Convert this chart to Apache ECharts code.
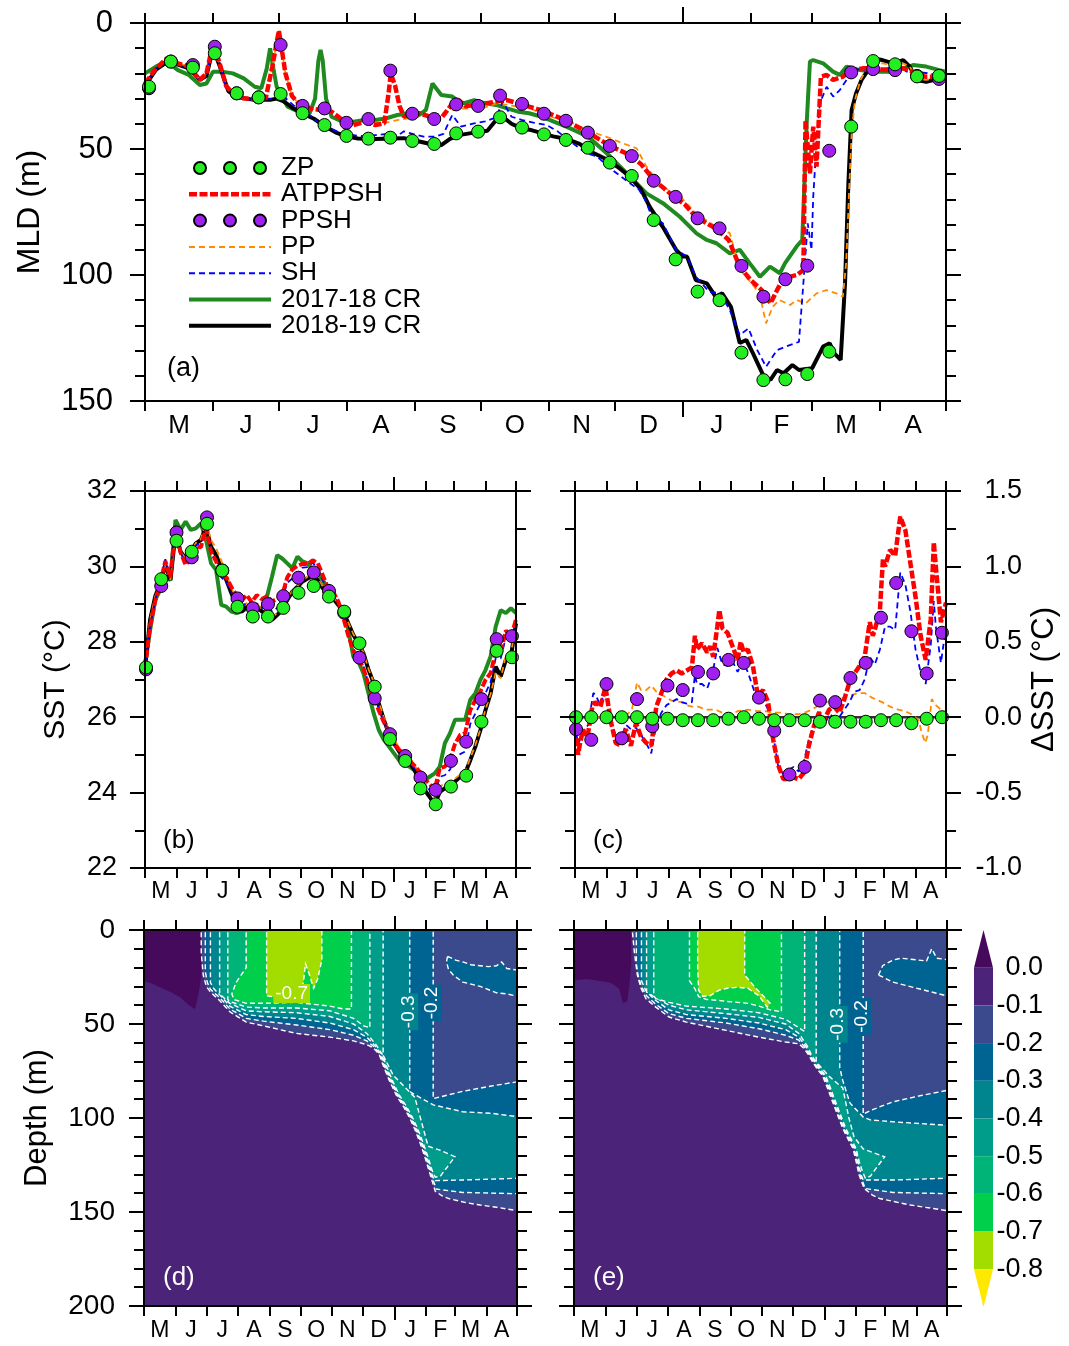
<!DOCTYPE html>
<html><head><meta charset="utf-8">
<script src="https://cdn.jsdelivr.net/npm/echarts@6/dist/echarts.min.js"></script>
<style>html,body{margin:0;padding:0;background:#fff}#c{width:1069px;height:1346px}</style>
</head><body><div id="c"></div>
<script>
// ---------- axis data ----------
const monthStarts = [0,31,61,92,123,153,184,214,245,276,304,335,365];
const monthMids = [15.5,46,76.5,107.5,138,168.5,199,229.5,260.5,290,319.5,350];
const monthLetters = ['M','J','J','A','S','O','N','D','J','F','M','A'];
const yearStart = [245];

// ---------- panel (a): MLD (m), [day, value] ----------
const markDaysA = Array.from({length:37}, (_, k) => 1.8 + 10 * k);
const zpMldA = [25.3,15.3,17.7,12,27.9,29.5,28.2,35.8,40.5,44.8,45.9,45.5,46.8,48,43.8,43.1,37.4,41.5,44.2,46.4,49.5,55.4,60.7,78.2,93.8,106.6,110,130.8,141.7,141.4,139.3,130.4,41.1,15.1,16.4,21.2,21];
const ppshMldA = [25.9,15.3,16.7,9.4,27.9,29.5,8.7,32.9,33.9,39.6,38.1,18.9,36,38.1,32.3,32.9,28.8,32.1,36,38.8,43.5,48.8,52.8,62.6,69,77.5,81.5,96.4,108.6,101.7,96.3,50.7,19.6,18.3,18.7,21,22.2];
const atppshMldA = [[0,24],[5,18],[10,14],[15,16],[20,17.3],[25,22.6],[28,20],[31,8],[34,16],[37,25],[40,28],[45,29.9],[50,30.3],[55,29.9],[58,17.3],[61,3],[64,20],[67,29],[70,31.9],[75,33.9],[80,34.5],[85,35.2],[90,38.5],[95,40.5],[100,39.2],[105,40.5],[109,39.8],[111,28],[112,20],[114,25],[116,33],[118,37.2],[120,36.5],[125,35.8],[130,37.2],[135,37.8],[140,32],[143,30.6],[146,33],[150,32.5],[155,31.9],[160,31.2],[165,30.6],[170,31.9],[175,33.2],[180,34.5],[186,36.5],[192,38.8],[202,43.5],[212,48.8],[221,52.4],[226,56],[232,62.3],[237,66],[241,68.9],[246,72],[251,76.9],[256,79.5],[260,81.5],[266,86.1],[271,96.7],[276,102],[281,106],[285,111.3],[288,106],[291,101.3],[297,100],[300,98],[301,38.5],[303,59.7],[304.5,41.1],[306,57],[308,21.3],[310.6,20.6],[313.6,22.6],[318,21.3],[322,18.7],[327,18],[332,18],[338,18.7],[342.5,17.3],[348.6,18.7],[351.6,20.6],[356,21.3],[365,21.3]];
const ppMldA = [[0,24],[5,18],[10,14],[15,16],[20,17.3],[25,22.6],[28,20],[31,8],[34,16],[37,25],[40,28],[45,29.9],[50,30.3],[55,29.9],[58,17.3],[61,3],[64,20],[67,29],[70,31.9],[75,33.9],[80,34.5],[85,35.2],[90,38.5],[95,40],[100,38.5],[105,39.5],[110,39.5],[115,38.5],[120,37.8],[125,37.2],[130,36.5],[135,36],[140,34.5],[145,34],[150,34],[155,33.5],[160,31.9],[165,32.5],[170,33.2],[175,33.5],[180,35.8],[186,37.5],[195,39.8],[203,43],[210,45.1],[217,47.5],[224,49.7],[228.5,57],[232,61],[236,65],[244,68.9],[251,75.5],[260,80.7],[266.5,83.4],[271,98],[274,100.7],[280,107.3],[283,119.2],[286,112.6],[289,109.9],[294,111.9],[297,109.9],[301,111.3],[306,107.3],[310.5,106],[315,107.3],[318,108.6],[319.5,95.2],[321,63.6],[322,43.8],[323.5,30.6],[326,22.6],[329.5,17.3],[331,16],[336,16],[341,16.7],[345.5,16],[348.5,17.3],[351.6,22],[356,22.6],[365,21.3]];
const shMldA = [[0,24.6],[5,18],[10,15],[15,16.5],[20,18],[25,22.5],[28,20],[31,8.5],[34,16],[37,26],[40,28],[45,30],[50,30.5],[55,30.3],[60,30],[62,28],[65,30.6],[70,34.5],[75,36.5],[80,40],[85,42],[90,44],[95,44.5],[100,45],[105,44.5],[110,44],[115,44.8],[118,43],[122,44],[127,45.1],[132,45.1],[136,44],[140,36.5],[144,41.1],[150,39.8],[155,39],[160,37.5],[163,31.2],[167,37.2],[172,38.5],[177,39.5],[183,40.5],[188,43],[193,46.4],[201,51.7],[206,53],[212,57.7],[221,63.6],[225,66],[228,70.2],[231,77],[236,79.5],[242,90],[247,92.7],[251,100.7],[257,106.6],[262,107.3],[266.5,113.9],[271,123.8],[275,121.2],[279,129.8],[283,136.4],[288,129.8],[292,128.4],[298,126.5],[300,103.3],[302,79.5],[303.7,90],[304.5,68.9],[306,47.8],[307.5,31.9],[310.6,25.3],[313.6,29.2],[316.6,26.6],[319.7,22.6],[322.8,18],[327,18.7],[332,18],[338,18],[344,17.3],[347,19.3],[351.6,19.3],[357,20],[365,21.3]];
const cr1718MldA = [[0,20],[5,17.3],[10,15.3],[15,18.7],[20,20.6],[25,24.6],[28,24],[31,19.3],[35,19.3],[40,20],[45,22],[50,25.3],[53,25.9],[55.5,18],[57,10],[58.5,18],[60,25.3],[65,33.2],[70,35.2],[75,35.8],[77.5,30],[79,15],[80,10.7],[81,15],[82.5,30],[85,37.2],[90,39.2],[95,39.2],[100,38.5],[105,38.5],[110,37.8],[115,36.5],[120,35.8],[125,36.5],[128,34.5],[131,24],[135,28.6],[140,29.2],[143,31.2],[145,31.9],[150,30.6],[155,31.9],[160,32.5],[165,33.9],[170,35.2],[175,35.8],[180,37],[186,39],[192,41.1],[202,45.1],[212,53],[221,61],[228.5,67.6],[236,71.5],[243.7,76.9],[251.3,83.5],[256,86.1],[260.4,87.4],[266.5,91.4],[271,90],[275.6,95.4],[280.2,100.7],[284.8,96.7],[289.3,99.3],[291.6,95.4],[296.9,88.7],[299.5,86.1],[301.5,40],[303,15.3],[304.5,14.7],[309,16],[313.5,19.3],[316.6,20.6],[319.7,17.3],[325.7,18.7],[331.9,19.3],[341,19.3],[350,16.7],[356,17.3],[362,18.7],[365,19.3]];
const cr1819MldA = [[0,25],[5,18.5],[10,15.5],[15,16.5],[20,18],[25,22.5],[28,21],[31,10],[34,17],[38,27],[42,29.5],[50,30.5],[57,30.5],[60,30],[63,31],[67,33.5],[72,36],[77,38],[82,41],[87,43.5],[92,45],[97,45.8],[105,46],[112,45.8],[118,45.7],[124,46.8],[130,48],[135,48.5],[139,46],[143,44.5],[150,43.5],[156,42.8],[160,38.5],[163,37.2],[167,40],[172,42],[176,42.5],[180,43.5],[186,45],[192,46],[198,48],[203,51],[210,54],[216,57.5],[221,61],[226,66],[230,73],[236,81],[242,90],[245,92.7],[247,92.7],[251,102],[256,103.3],[260,108.6],[263,107.3],[267,112.6],[271,127],[274,125.8],[277,131],[282,140.3],[285,141.6],[288,137.7],[291,139],[295,135.7],[298,137.7],[304,137],[309,128.4],[312,127.1],[314,131],[317,133.7],[319,103],[320.5,64],[322,34.5],[324,28],[326.5,22.6],[329.5,18.7],[331,14],[336,14.7],[341,16],[345.5,14.7],[348.5,17.3],[351.6,22.6],[356,23.3],[362,22],[365,21.3]];

// ---------- panel (b): SST (degC), every 5 days ----------
const daysB = Array.from({length:74}, (_, i) => i * 5);
const markDaysB = Array.from({length:25}, (_, k) => 1 + 15 * k);
const zpSstB = [27.32,29.66,30.68,30.39,31.13,29.89,28.93,28.67,28.67,28.9,29.3,29.48,29.2,28.8,27.96,26.81,25.42,24.84,24.11,23.69,24.16,24.45,25.88,27.76,27.59];
const ppshSstB = [27.27,29.48,30.9,30.24,31.3,29.89,29.15,28.89,29.0,29.21,29.7,29.84,29.35,28.77,27.58,26.5,25.55,24.97,24.4,24.07,24.84,25.35,26.48,28.07,28.15];
const cr1819SstB = [27.3,28.58,29.2,29.55,30.04,29.64,30.88,30.39,30.21,30.39, 30.61,30.7,31.05,30.52,30.3,29.95,29.64,29.29,28.98,28.8, 28.93,28.76,28.93,28.8,28.76,28.58,28.71,28.84,29.11,29.33, 29.46,29.6,29.68,29.73,29.64,29.42,29.29,29.15,28.98,28.8, 28.49,28.18,27.96,27.69,27.25,26.9,26.37,25.93,25.57,25.31, 25.09,24.95,24.82,24.6,24.33,24.07,23.89,23.67,24.02,24.11, 24.16,24.29,24.42,24.51,24.86,25.22,25.66,26.19,26.63,27.34, 27.08,27.52,27.61,28.49];
const atppshSstB = [27.3,28.41,29.07,29.55,30.14,29.71,31.08,30.37,30.04,30.2, 30.53,30.51,31.01,30.39,30.13,29.76,29.71,29.45,29.23,29.09, 29.24,29.05,29.24,29.13,29.21,29.07,29.14,29.24,29.71,29.92, 30.02,30.07,30.06,30.16,30.09,29.76,29.43,29.33,29.08,28.65, 28.17,27.77,27.55,27.29,26.84,26.53,26.18,25.87,25.6,25.29, 25.14,25.02,24.85,24.72,24.56,24.36,24.23,24.07,24.65,24.69, 24.87,25.29,25.53,25.58,26.19,26.46,26.68,26.99,27.17,27.72, 27.73,28.3,28.1,28.6];
const shSstB = [27.25,28.44,29.12,29.6,30.19,29.72,31.08,30.37,30.09,30.24, 30.56,30.62,30.98,30.4,30.13,29.71,29.59,29.32,29.06,28.9, 29.05,28.86,29.02,28.9,28.98,28.8,28.9,29.12,29.57,29.68, 29.8,29.97,29.98,30.1,29.94,29.62,29.39,29.27,29.03,28.68, 28.16,27.8,27.61,27.36,26.89,26.6,26.22,25.88,25.62,25.25, 25.11,24.95,24.82,24.65,24.43,24.24,24.07,23.92,24.42,24.46, 24.61,24.89,25.02,25.09,25.82,26.1,26.36,26.64,26.93,27.56, 27.56,28.12,27.97,28.4];
const ppSstB = [27.3,28.58,29.2,29.55,30.04,29.64,30.88,30.39,30.21,30.39, 30.62,30.72,31.2,30.7,30.48,30.16,29.81,29.44,29.08,28.88, 29.03,28.84,29.01,28.87,28.81,28.65,28.76,28.87,29.14,29.35, 29.48,29.63,29.73,29.78,29.67,29.47,29.34,29.19,29.01,28.82, 28.51,28.2,27.98,27.71,27.27,26.93,26.42,25.98,25.65,25.41, 25.19,25.05,24.94,24.75,24.48,24.22,24.05,23.84,24.17,24.23, 24.26,24.37,24.48,24.56,24.91,25.26,25.68,26.21,26.61,27.19, 27.03,27.64,27.67,28.52];
const cr1718SstB = [27.4,28.31,29.11,29.37,29.73,29.64,31.23,30.97,31.19,30.97, 31.01,31.14,30.7,30.08,29.9,28.98,28.93,28.8,28.76,28.8, 28.89,28.84,28.89,28.89,29.2,29.73,30.3,30.21,30.08,29.95, 30.26,30.13,30.08,29.9,29.82,29.64,29.37,29.15,29.02,28.84, 28.31,27.61,27.47,27.16,26.63,26.1,25.66,25.4,25.22,25.04, 24.86,24.78,24.69,24.6,24.51,24.33,24.42,24.51,24.69,25.31, 25.57,25.93,25.93,25.93,26.46,26.63,26.99,27.25,27.61,28.4, 28.84,28.76,28.89,28.76];

// ---------- panel (c): dSST (degC) ----------
const zpDsstC = [0,0,0,0,0,-0.01,-0.01,-0.02,-0.02,-0.02,-0.01,0,-0.01,-0.02,-0.02,-0.02,-0.03,-0.03,-0.03,-0.03,-0.02,-0.02,-0.04,-0.01,0];
const ppshDsstC = [-0.08,-0.15,0.22,-0.14,0.12,-0.06,0.21,0.18,0.3,0.29,0.38,0.36,0.13,-0.09,-0.38,-0.33,0.11,0.1,0.26,0.36,0.66,0.89,0.57,0.29,0.56];
const cr1819DsstC = [[0,0],[365,0]];
const atppshDsstC = [[0,0],[3,-0.25],[5,-0.17],[8,-0.08],[10,-0.13],[13,-0.10],[17,0.07],[20,0.1],[25,0.07],[30,0.2],[35,-0.02],[40,-0.17],[45,-0.19],[50,-0.08],[55,-0.19],[60,-0.04],[65,-0.13],[70,-0.17],[75,-0.19],[80,0.07],[85,0.16],[90,0.25],[95,0.29],[100,0.31],[105,0.29],[110,0.31],[115,0.33],[118,0.54],[120,0.45],[125,0.49],[130,0.43],[133,0.47],[136,0.40],[140,0.6],[142,0.71],[145,0.59],[150,0.56],[155,0.47],[160,0.38],[163,0.5],[166,0.43],[170,0.45],[175,0.34],[180,0.14],[185,0.18],[190,0.1],[195,-0.15],[200,-0.32],[205,-0.41],[210,-0.41],[215,-0.40],[220,-0.41],[225,-0.37],[230,-0.19],[235,-0.06],[240,0.03],[245,-0.02],[250,0.05],[255,0.07],[260,0.03],[265,0.12],[270,0.23],[275,0.29],[280,0.34],[285,0.40],[290,0.63],[293,0.54],[295,0.58],[300,0.71],[303,1.05],[305,1.0],[310,1.11],[315,1.07],[320,1.33],[325,1.24],[330,1.02],[335,0.80],[340,0.54],[345,0.38],[350,0.65],[353,1.16],[355,1.0],[360,0.63],[365,0.76]];
const shDsstC = [[0,-0.05],[3,-0.18],[8,-0.1],[13,-0.05],[18,0.16],[20,0.15],[25,0.08],[30,0.2],[35,-0.02],[40,-0.12],[45,-0.15],[50,-0.05],[55,-0.08],[60,-0.07],[65,-0.12],[70,-0.17],[75,-0.24],[80,-0.05],[85,0.03],[90,0.08],[95,0.1],[100,0.12],[105,0.1],[110,0.09],[115,0.1],[118,0.28],[120,0.22],[125,0.22],[130,0.19],[135,0.28],[140,0.46],[145,0.35],[150,0.34],[155,0.37],[160,0.3],[165,0.37],[170,0.3],[175,0.2],[180,0.1],[185,0.12],[190,0.05],[195,-0.12],[200,-0.33],[205,-0.38],[210,-0.35],[215,-0.33],[220,-0.36],[225,-0.3],[230,-0.15],[235,-0.05],[240,0.05],[245,-0.06],[250,0.02],[255,0.0],[260,0.0],[265,0.05],[270,0.1],[275,0.17],[280,0.18],[285,0.25],[290,0.4],[295,0.35],[300,0.45],[305,0.6],[310,0.6],[315,0.58],[320,0.96],[325,0.88],[330,0.7],[335,0.45],[340,0.3],[345,0.22],[350,0.48],[353,0.77],[355,0.6],[360,0.36],[365,0.6]];
const ppDsstC = [[0,0],[10,0],[20,0],[30,0],[40,0],[50,0.01],[56,0.05],[61,0.23],[65,0.18],[70,0.18],[75,0.21],[80,0.17],[85,0.15],[90,0.13],[95,0.11],[105,0.1],[110,0.08],[115,0.07],[121,0.07],[125,0.06],[130,0.05],[138,0.05],[145,0.03],[154,0.02],[160,0.04],[170,0.05],[180,0.04],[187,0.04],[195,0.03],[203,0.03],[210,0.02],[220,0.02],[226,0.03],[233,0.05],[240,0.08],[246,0.1],[253,0.11],[260,0.12],[269,0.14],[278,0.16],[285,0.16],[292,0.13],[302,0.1],[310,0.07],[318,0.05],[325,0.04],[331,0.02],[338,-0.02],[341,-0.1],[344.5,-0.17],[347,-0.12],[349,0.0],[351,0.12],[355,0.08],[360,0.05],[365,0.03]];

// ---------- panels (d),(e): filled contour regions [day, depth] (nested: value <= level) ----------
const domainDE = [[-3,-3],[368,-3],[368,203],[-3,203]];
const dPos   = [[-3,-3],[56,-3],[56,25],[53,35],[50,42],[44,40],[36,36],[26,33],[14,30],[6,28],[-3,27]];
const dLe01  = [[56,-3],[56,12],[58,24],[61,30],[65,33],[74,37.5],[84,43.5],[100,49],[117,51],[149,55],[182,57],[205,59],[218,61],[224,62.5],[230,66],[234,72],[240,80],[247,88],[254,94],[260,100],[265,106],[270,113],[275,121],[280,130],[285,139],[292,141.5],[299,143],[315,145],[329,146.3],[345,147.5],[368,149.5],[368,-3]];
const dLe02  = [[60,-3],[60,22],[62,28],[65,31.5],[75,36.5],[84,42],[100,47],[117,48.5],[149,50.5],[182,53],[205,56],[218,59],[225,62],[231,66],[235,72],[241,80],[248,88],[255,94],[261,100],[266,106],[271,113],[276,121],[281,130],[286,137.8],[312,139.6],[368,140.3],[368,80.5],[340,83],[312,85.8],[283,89.7],[283,-3]];
const dBlob02= [[297,14],[305,16],[312,17],[320,18.5],[329,19],[337,19.5],[345,19],[350,17],[355,20.5],[368,21.5],[368,35.5],[355,34],[345,33.4],[329,30],[312,27.7],[303,24.2],[298,21],[296,17]];
const dLe03  = [[65,-3],[65,28],[68,31],[75,35],[84,40.5],[100,45],[117,46],[149,47],[182,49.5],[205,53],[218,57],[226,61.5],[232,66],[236,72],[242,80],[249,88],[256,94],[262,100],[267,106],[272,113],[277,121],[282,130],[284,133.3],[312,133],[368,132],[368,99.5],[340,97.5],[312,96.7],[283,93],[260,86],[260,-3]];
const dLe04  = [[74,-3],[74,34],[84,39],[100,43],[117,43.5],[149,44],[182,46],[205,50],[218,55],[227,61],[233,66],[237,72],[243,80],[250,88],[257,94],[263,100],[268,106],[273,113],[278,121],[282,128],[285,131.5],[290,131],[294.5,127.7],[304.3,120.6],[289.6,117.1],[278,115],[275,109],[270,99],[265,89],[244,77.3],[234,66.6],[234,-3]];
const dLe05  = [[82,-3],[82,37],[84,38],[100,41],[117,41.5],[149,41.5],[182,43],[205,47],[215,51],[221,52],[221,-3]];
const dLe06  = [[100,-3],[100,20],[90,28],[86,34],[88,37],[100,39],[117,39],[149,38.5],[182,40.5],[195,42],[203,42],[203,-3]];
const dLe07  = [[120,-3],[120,35],[128,35.7],[140,35.7],[148,35.5],[152,34],[156,28],[158,18],[162,24],[166,31],[170,26],[174,16],[174,-3]];

const ePos   = [[-3,-3],[56,-3],[56,18],[54,30],[52,38],[48,39],[44,31],[36,28],[24,27],[12,26],[-3,27]];
const eLe01  = [[57,-3],[57,0],[59,11.5],[62,24],[65.6,31],[70.5,36.6],[80,41],[93,46.3],[110,49],[149,53.4],[181,57],[207,59.6],[220,60.5],[225,63],[229,66],[233.5,70.2],[238,74],[243,77.3],[248,84],[253,91.4],[258,98.5],[263,105.6],[268,111],[273,116.2],[276,123],[279,130.4],[284,137.5],[292,141],[299,142.8],[329,146.3],[368,149.5],[368,-3]];
const eLe02  = [[61,-3],[61,18],[63,25],[66,30],[71,35],[80,39.5],[93,44.5],[110,47],[149,49.5],[181,52.5],[207,56],[220,58.5],[226,62.5],[230,66],[234.5,70.2],[239,74],[244,77.3],[249,84],[254,91.4],[259,98.5],[264,105.6],[269,111],[274,116.2],[277,123],[280,130.4],[285,137.5],[312,139.6],[368,140.3],[368,85],[340,88],[312,91.4],[290,96],[283,98],[283,-3]];
const eBlob02= [[298,24],[302,19],[312,16],[320,15],[329,15.5],[345,16.5],[350,10],[355,15],[368,16],[368,35.5],[345,32.3],[325,29.5],[312,27.7],[304,25.5]];
const eLe03  = [[66,-3],[66,27],[70,32],[75,35],[80,37.5],[93,42.5],[110,45],[149,47],[181,49.5],[207,53],[220,57],[227,62],[231,66],[235.5,70.2],[240,74],[245,77.3],[250,84],[255,91.4],[260,98.5],[265,105.6],[270,111],[275,116.2],[278,123],[281,130.4],[283,133],[312,133],[368,132],[368,104],[340,103],[312,102],[290,101],[283,99.5],[270,92],[263,80],[260,73],[260,-3]];
const eLe04  = [[71,-3],[71,33],[80,36],[93,40],[110,42.5],[149,44.5],[181,46.5],[207,50],[220,55],[228,61.5],[232,66],[236.5,70.2],[241,74],[246,77.3],[251,84],[256,91.4],[261,98.5],[266,105.6],[271,111],[276,116.2],[279,123],[282,128],[285,132],[290,131],[293,128.7],[304,120.6],[283,116.5],[274,110],[269,100],[266,92],[263,84],[250,78],[237,70.2],[237,-3]];
const eLe05  = [[78,-3],[78,35],[80,36.5],[93,38.5],[110,40.5],[149,42],[181,44],[207,47.5],[220,52],[225.7,54],[225.7,-3]];
const eLe06  = [[113,-3],[113,27],[118,31],[122,35.5],[130,37],[140,37.4],[150,38],[160,38.5],[170,39],[181,40.5],[192,42.5],[203,43.5],[203,-3]];
const eLe07  = [[121,-3],[121,20],[122,32],[126,35.3],[133,35],[142,32],[150,31],[160,30.5],[170,31],[181,35],[189,41],[192,39],[178,31],[167,24],[167,-3]];

// contour labels [day, depth, text, vertical]
const labelsD = [[144.5,33.8,'-0.7',0],[259,43.5,'-0.3',1],[282,38.8,'-0.2',1]];
const labelsE = [[258.5,50.2,'-0.3',1],[281.5,46,'-0.2',1]];

// colour levels (colorbar)
const cbLevels = [0.1,0,-0.1,-0.2,-0.3,-0.4,-0.5,-0.6,-0.7,-0.8,-0.9];
const cbLabels = [0,-0.1,-0.2,-0.3,-0.4,-0.5,-0.6,-0.7,-0.8];
const cbColors = ['#450a5c','#4b2378','#3b4a8c','#006492','#00858e','#009e8a','#00b377','#00cf4c','#a3dd00','#ffe800'];

// ---------- build ----------
const FONT = '"Liberation Sans", Arial, Helvetica, sans-serif';
const C = cbColors;
const regionsD = [[domainDE,C[1],0],[dPos,C[0],0],[dLe01,C[2],1],[dLe02,C[3],1],[dBlob02,C[3],1],[dLe03,C[4],1],[dLe04,C[5],1],[dLe05,C[6],1],[dLe06,C[7],1],[dLe07,C[8],1]];
const regionsE = [[domainDE,C[1],0],[ePos,C[0],0],[eLe01,C[2],1],[eLe02,C[3],1],[eBlob02,C[3],1],[eLe03,C[4],1],[eLe04,C[5],1],[eLe05,C[6],1],[eLe06,C[7],1],[eLe07,C[8],1]];
const labelBg = {'-0.7':C[8],'-0.3':C[4],'-0.2':C[3]};

function xAx(grid, pos, show, fs, margin) {
  return {type:'value', gridIndex:grid, position:pos, min:0, max:365, z:10,
    axisLine:{show:true, onZero:false, lineStyle:{color:'#000', width:2}},
    axisTick:{show:true, customValues:monthStarts, length:10, lineStyle:{color:'#000', width:2}},
    axisLabel:{show:show, customValues:monthMids, formatter:(v)=>{const i=monthMids.indexOf(v); return i>=0?monthLetters[i]:'';}, fontSize:fs, fontFamily:FONT, color:'#000', margin:margin},
    splitLine:{show:false}};
}
function xJan(grid, pos, len) {
  return {type:'value', gridIndex:grid, position:pos, min:0, max:365, z:10,
    axisLine:{show:false, onZero:false}, axisLabel:{show:false}, splitLine:{show:false},
    axisTick:{show:true, customValues:yearStart, length:len, lineStyle:{color:'#000', width:2}}};
}
function yAx(grid, pos, min, max, interval, minorSplit, inverse, label, name) {
  const a = {type:'value', gridIndex:grid, position:pos, min:min, max:max, interval:interval, inverse:inverse, z:10,
    axisLine:{show:true, onZero:false, lineStyle:{color:'#000', width:2}},
    axisTick:{show:true, length:15, lineStyle:{color:'#000', width:2}},
    minorTick:{show:true, splitNumber:minorSplit, length:10, lineStyle:{color:'#000', width:2}},
    axisLabel: label ? Object.assign({show:true, color:'#000', fontFamily:FONT}, label) : {show:false},
    splitLine:{show:false}, minorSplitLine:{show:false}};
  if (name) Object.assign(a, {name:name.text, nameLocation:'middle', nameRotate:90, nameGap:name.gap, nameTextStyle:{fontSize:name.fs, fontFamily:FONT, color:'#000'}});
  return a;
}

const grids = [
  {left:145, top:23, width:801, height:378},
  {left:145, top:491, width:371, height:377},
  {left:575, top:491, width:371, height:377},
  {left:144, top:930, width:373, height:376},
  {left:574, top:930, width:373, height:376},
  {left:974, top:930, width:19, height:377}
].map(g => Object.assign({show:false, containLabel:false, outerBoundsMode:'none'}, g));

const xAxes = [
  xAx(0,'bottom',true,26,12), xAx(0,'top',false,26,12),
  xAx(1,'bottom',true,23,12), xAx(1,'top',false,23,12),
  xAx(2,'bottom',true,23,12), xAx(2,'top',false,23,12),
  xAx(3,'bottom',true,23,13), xAx(3,'top',false,23,13),
  xAx(4,'bottom',true,23,13), xAx(4,'top',false,23,13),
  {type:'value', gridIndex:5, min:0, max:1, show:false},
  xJan(0,'bottom',16), xJan(0,'top',16),
  xJan(1,'bottom',14), xJan(1,'top',14),
  xJan(2,'bottom',14), xJan(2,'top',14),
  xJan(3,'bottom',14), xJan(3,'top',14),
  xJan(4,'bottom',14), xJan(4,'top',14)
];
const fmt1 = v => v.toFixed(1);
const yAxes = [
  yAx(0,'left',0,150,50,5,true,{fontSize:31, margin:32},{text:'MLD (m)', gap:99, fs:32}),
  yAx(0,'right',0,150,50,5,true,null,null),
  yAx(1,'left',22,32,2,2,false,{fontSize:27, margin:28},{text:'SST (°C)', gap:74, fs:30}),
  yAx(1,'right',22,32,2,2,false,null,null),
  yAx(2,'left',-1,1.5,0.5,2,false,null,null),
  yAx(2,'right',-1,1.5,0.5,2,false,{fontSize:27, margin:76, align:'right', formatter:fmt1},{text:'ΔSST (°C)', gap:83, fs:31}),
  yAx(3,'left',0,200,50,5,true,{fontSize:28, margin:29},{text:'Depth (m)', gap:91, fs:31}),
  yAx(3,'right',0,200,50,5,true,null,null),
  yAx(4,'left',0,200,50,5,true,null,null),
  yAx(4,'right',0,200,50,5,true,null,null),
  {type:'value', gridIndex:5, position:'right', min:-0.9, max:0.1,
    axisLine:{show:false}, axisTick:{show:false}, splitLine:{show:false},
    axisLabel:{show:true, customValues:cbLabels, formatter:fmt1, align:'right', margin:50, fontSize:27, fontFamily:FONT, color:'#000'}}
];

function lineS(name, xi, yi, data, color, width, dash, z) {
  return {name:name, type:'line', xAxisIndex:xi, yAxisIndex:yi, data:data, symbol:'none', showSymbol:false,
    clip:true, z:z, lineStyle:{color:color, width:width, type:dash||'solid'}, itemStyle:{color:color}, silent:true};
}
function scatS(name, xi, yi, data, color, z) {
  return {name:name, type:'scatter', xAxisIndex:xi, yAxisIndex:yi, data:data, symbol:'circle', symbolSize:13, z:z,
    itemStyle:{color:color, borderColor:'#000', borderWidth:1, opacity:1}, silent:true};
}
const RED='#ff0000', ORG='#ff8c00', BLU='#0000ff', GRN='#1f8a1f', BLK='#000000', ZPC='#22ee22', PPC='#a020f0';
const DASH_R=[8,2.5], DASH_T=[6,4];
const pairs = (xs, ys) => xs.map((x,i)=>[x, ys[i]]);

function regionSeries(regions, xi, yi) {
  return {type:'custom', xAxisIndex:xi, yAxisIndex:yi, clip:true, silent:true, z:1,
    data: regions.map((_, i) => [i, 0]),
    renderItem: (params, api) => {
      const r = regions[api.value(0)];
      const pts = r[0].map(p => api.coord(p));
      return {type:'polygon', shape:{points:pts}, style:{fill:r[1], stroke:r[2]?'#ffffff':null, lineWidth:1.4, lineDash:r[2]?[5,3]:null}};
    }};
}
function labelSeries(labels, xi, yi) {
  return {type:'custom', xAxisIndex:xi, yAxisIndex:yi, clip:true, silent:true, z:3,
    data: labels.map((_, i) => [i, 0]),
    renderItem: (params, api) => {
      const l = labels[api.value(0)];
      const p = api.coord([l[0], l[1]]);
      return {type:'text', x:p[0], y:p[1], rotation: l[3] ? Math.PI/2 : 0,
        style:{text:l[2], fill:'#fff', fontSize:19, fontFamily:FONT, align:'center', verticalAlign:'middle', backgroundColor:labelBg[l[2]], padding:[0,2]}};
    }};
}
const colorbarSeries = {type:'custom', xAxisIndex:10, yAxisIndex:10, silent:true, z:2,
  data: cbColors.map((_, i) => [i, 0]),
  renderItem: (params, api) => {
    const i = api.value(0);
    const top = cbLevels[i], bot = cbLevels[i+1];
    const tl = api.coord([0, top]), br = api.coord([1, bot]);
    const mid = api.coord([0.5, 0]);
    let pts;
    if (i === 0) pts = [[tl[0], br[1]], [br[0], br[1]], [mid[0], tl[1]]];
    else if (i === cbColors.length - 1) pts = [[tl[0], tl[1]], [br[0], tl[1]], [mid[0], br[1]]];
    else pts = [[tl[0], tl[1]], [br[0], tl[1]], [br[0], br[1]], [tl[0], br[1]]];
    return {type:'polygon', shape:{points:pts}, style:{fill:cbColors[i]}};
  }};

const series = [
  // (a)
  lineS('2017-18 CR',0,0,cr1718MldA,GRN,4,null,2),
  lineS('2018-19 CR',0,0,cr1819MldA,BLK,4,null,3),
  lineS('PP',0,0,ppMldA,ORG,1.8,DASH_T,4),
  lineS('SH',0,0,shMldA,BLU,1.8,DASH_T,5),
  lineS('ATPPSH',0,0,atppshMldA,RED,4.5,DASH_R,6),
  scatS('PPSH',0,0,pairs(markDaysA,ppshMldA),PPC,7),
  scatS('ZP',0,0,pairs(markDaysA,zpMldA),ZPC,8),
  // (b)
  lineS('2017-18 CR',2,2,pairs(daysB,cr1718SstB),GRN,4,null,2),
  lineS('2018-19 CR',2,2,pairs(daysB,cr1819SstB),BLK,4,null,3),
  lineS('PP',2,2,pairs(daysB,ppSstB),ORG,1.8,DASH_T,4),
  lineS('SH',2,2,pairs(daysB,shSstB),BLU,1.8,DASH_T,5),
  lineS('ATPPSH',2,2,pairs(daysB,atppshSstB),RED,4,DASH_R,6),
  scatS('PPSH',2,2,pairs(markDaysB,ppshSstB),PPC,7),
  scatS('ZP',2,2,pairs(markDaysB,zpSstB),ZPC,8),
  // (c)
  lineS('2018-19 CR',4,4,cr1819DsstC,'#333333',2.5,null,3),
  lineS('PP',4,4,ppDsstC,ORG,1.8,DASH_T,4),
  lineS('SH',4,4,shDsstC,BLU,1.8,DASH_T,5),
  lineS('ATPPSH',4,4,atppshDsstC,RED,4.5,DASH_R,6),
  scatS('PPSH',4,4,pairs(markDaysB,ppshDsstC),PPC,7),
  scatS('ZP',4,4,pairs(markDaysB,zpDsstC),ZPC,8),
  // (d),(e)
  regionSeries(regionsD,6,6), labelSeries(labelsD,6,6),
  regionSeries(regionsE,8,8), labelSeries(labelsE,8,8),
  colorbarSeries
];

// legend icons (82 x 14 box)
function dashIcon(dash, gap, lw) {
  const w = 82, h = 14, y0 = (h - lw) / 2;
  let s = 'path://M0,0M' + w + ',' + h;
  for (let x = 0; x < w - 0.5; x += dash + gap) {
    const dw = Math.min(dash, w - x);
    s += 'M' + x + ',' + y0 + 'h' + dw + 'v' + lw + 'h' + (-dw) + 'z';
  }
  return s;
}
const dots3 = 'path://M0,1M82,13M5,7a6,6 0 1,0 12,0a6,6 0 1,0 -12,0M35,7a6,6 0 1,0 12,0a6,6 0 1,0 -12,0M65,7a6,6 0 1,0 12,0a6,6 0 1,0 -12,0';
const option = {
  animation:false, backgroundColor:'#ffffff',
  grid: grids, xAxis: xAxes, yAxis: yAxes, series: series,
  legend: {orient:'vertical', left:183, top:150, itemWidth:82, itemHeight:14, itemGap:0.3, selectedMode:false,
    textStyle:{fontSize:26, fontFamily:FONT, color:'#000', lineHeight:26, padding:[0,0,0,5]},
    data:[{name:'ZP', icon:dots3},
          {name:'ATPPSH', icon:dashIcon(8,2.5,4.5)},
          {name:'PPSH', icon:dots3},
          {name:'PP', icon:dashIcon(6,4,2)},
          {name:'SH', icon:dashIcon(6,4,2)},
          {name:'2017-18 CR', icon:dashIcon(82,0,4)},
          {name:'2018-19 CR', icon:dashIcon(82,0,4)}]},
  graphic: [
    {type:'text', left:167, top:355, z:20, style:{text:'(a)', fontSize:27, fontFamily:FONT, fill:'#000'}},
    {type:'text', left:163, top:828, z:20, style:{text:'(b)', fontSize:26, fontFamily:FONT, fill:'#000'}},
    {type:'text', left:593, top:828, z:20, style:{text:'(c)', fontSize:26, fontFamily:FONT, fill:'#000'}},
    {type:'text', left:163, top:1265, z:20, style:{text:'(d)', fontSize:26, fontFamily:FONT, fill:'#fff'}},
    {type:'text', left:593, top:1265, z:20, style:{text:'(e)', fontSize:26, fontFamily:FONT, fill:'#fff'}}
  ]
};
const chart = echarts.init(document.getElementById('c'), null, {renderer:'canvas', width:1069, height:1346});
chart.setOption(option);
</script></body></html>
